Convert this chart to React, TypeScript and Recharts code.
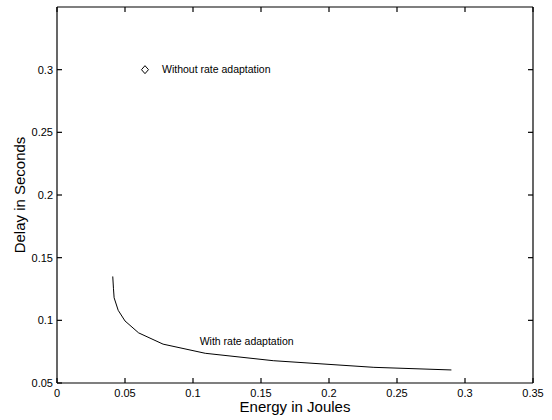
import { ComposedChart, Line, Scatter, XAxis, YAxis } from 'recharts'

const energy = [0.041, 0.0415, 0.042, 0.045, 0.05, 0.06, 0.078, 0.109, 0.159, 0.233, 0.29]
const delay = [0.135, 0.1256, 0.118, 0.108, 0.0995, 0.09, 0.081, 0.0737, 0.0678, 0.0625, 0.0604]

const noAdaptEnergy = [0.0647]
const noAdaptDelay = [0.3]

const noteText = ['Without rate adaptation', 'With rate adaptation']
const noteEnergy = [0.0772, 0.1049]
const noteDelay = [0.3, 0.083]

const xTicks = [0, 0.05, 0.1, 0.15, 0.2, 0.25, 0.3, 0.35]
const yTicks = [0.05, 0.1, 0.15, 0.2, 0.25, 0.3]
const rightTicks = [0.1, 0.15, 0.2, 0.25, 0.3]

const curve = energy.map((e, i) => ({ energy: e, delay: delay[i] }))
const point = noAdaptEnergy.map((e, i) => ({ energy: e, delay: noAdaptDelay[i] }))
const notes = noteText.map((t, i) => ({ energy: noteEnergy[i], delay: noteDelay[i], text: t }))

const FONT = '"Liberation Sans", Arial, Helvetica, sans-serif'
const INK = '#000'

function BottomTick({ x, y, payload }: any) {
  return (
    <text x={x} y={y + 14} textAnchor="middle" fontSize={11} fill={INK} fontFamily={FONT}>
      {payload.value}
    </text>
  )
}

function LeftTick({ x, y, payload }: any) {
  return (
    <text x={x - 4} y={y + 4} textAnchor="end" fontSize={11} fill={INK} fontFamily={FONT}>
      {payload.value}
    </text>
  )
}

function Nothing() {
  return <g />
}

function Diamond({ cx, cy }: any) {
  return (
    <path
      d={`M${cx},${cy - 4} L${cx + 3.5},${cy} L${cx},${cy + 4} L${cx - 3.5},${cy} Z`}
      fill="none"
      stroke={INK}
      strokeWidth={1}
    />
  )
}

function Note({ cx, cy, payload }: any) {
  return (
    <text x={cx} y={cy + 3.5} fontSize={10.5} fill={INK} fontFamily={FONT}>
      {payload.text}
    </text>
  )
}

// matlab style: ticks point inward, box on all four sides
const axisBits = {
  type: 'number' as const,
  interval: 0,
  allowDataOverflow: true,
  tickSize: -5,
  tickMargin: 5,
  tickLine: { stroke: INK, strokeWidth: 1.2 },
  axisLine: { stroke: INK, strokeWidth: 1.2 },
}

export default function App() {
  return (
    <div style={{ position: 'absolute', left: 0, top: 0, background: '#fff' }}>
      <ComposedChart width={552} height={420} margin={{ top: 6, right: 18, bottom: 0, left: 0 }}>
        <XAxis
          {...axisBits}
          dataKey="energy"
          domain={[0, 0.35]}
          ticks={xTicks}
          height={37}
          tick={<BottomTick />}
          label={{
            value: 'Energy in Joules',
            position: 'insideBottom',
            offset: 8,
            style: { fontSize: 15, fill: INK, fontFamily: FONT },
          }}
        />
        <XAxis
          {...axisBits}
          xAxisId="top"
          orientation="top"
          dataKey="energy"
          domain={[0, 0.35]}
          ticks={xTicks}
          height={1}
          tick={<Nothing />}
        />
        <YAxis
          {...axisBits}
          dataKey="delay"
          domain={[0.05, 0.35]}
          ticks={yTicks}
          width={57}
          tick={<LeftTick />}
          label={{
            value: 'Delay in Seconds',
            angle: -90,
            position: 'insideLeft',
            offset: 20,
            style: { fontSize: 15, fill: INK, fontFamily: FONT, textAnchor: 'middle' },
          }}
        />
        <YAxis
          {...axisBits}
          yAxisId="right"
          orientation="right"
          dataKey="delay"
          domain={[0.05, 0.35]}
          ticks={rightTicks}
          width={1}
          tick={<Nothing />}
        />
        <Line
          data={curve}
          dataKey="delay"
          type="linear"
          stroke={INK}
          strokeWidth={1}
          dot={false}
          activeDot={false}
          isAnimationActive={false}
        />
        <Scatter data={point} dataKey="delay" shape={<Diamond />} isAnimationActive={false} />
        <Scatter data={notes} dataKey="delay" shape={<Note />} isAnimationActive={false} />
        <Scatter
          data={point}
          dataKey="delay"
          xAxisId="top"
          yAxisId="right"
          shape={<Nothing />}
          isAnimationActive={false}
        />
      </ComposedChart>
    </div>
  )
}
